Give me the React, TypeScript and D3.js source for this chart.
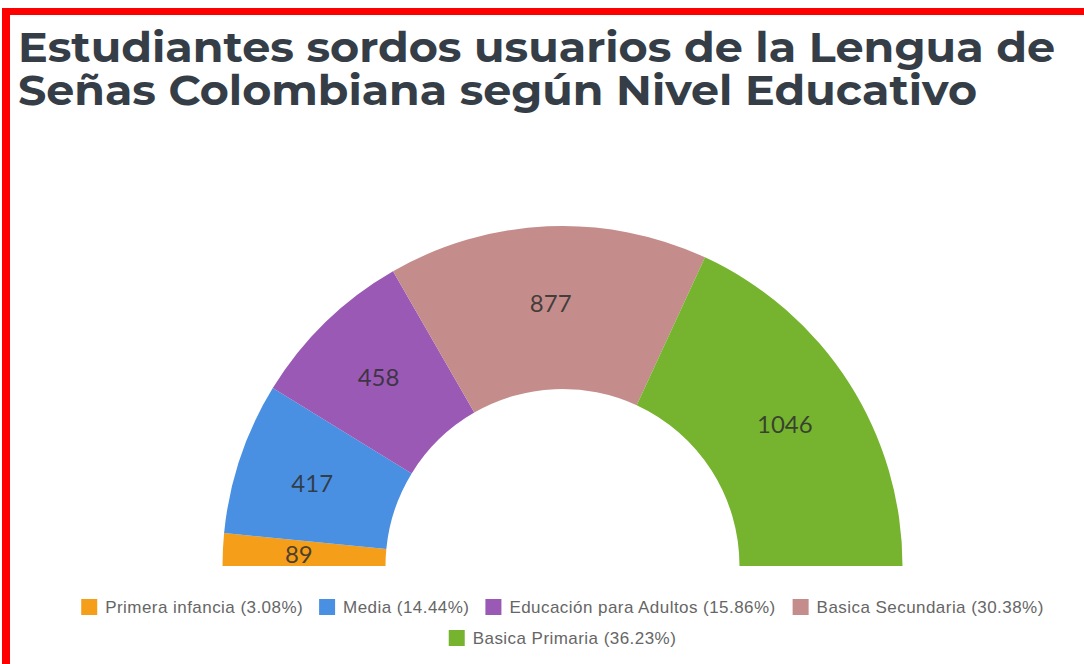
import React from "react";
import * as d3 from "d3";

const categories = ["Primera infancia", "Media", "Educación para Adultos", "Basica Secundaria", "Basica Primaria"];
const values = [89, 417, 458, 877, 1046];
const percentLabels = ["3.08%", "14.44%", "15.86%", "30.38%", "36.23%"];
const colors = ["#f59e1a", "#4a90e2", "#9b59b6", "#c48c8a", "#76b42f"];
const titleLines = ["Estudiantes sordos usuarios de la Lengua de", "Señas Colombiana según Nivel Educativo"];

const W = 1084;
const H = 664;

const LEGEND_SIZE = 17;
const LEGEND_SPACING = 0.45;

function measure(text: string, font: string, spacing: number): number {
  if (typeof document === "undefined") return text.length * 8;
  const c = document.createElement("canvas");
  const ctx = c.getContext("2d");
  if (!ctx) return text.length * 8;
  ctx.font = font;
  return ctx.measureText(text).width + spacing * text.length;
}

export default function App() {
  const cx = 562.5;
  const cy = 566;
  const rOuter = 340;
  const rInner = 177;
  const rLabel = 264;

  const pie = d3
    .pie<number>()
    .sort(null)
    .value((d) => d)
    .startAngle(-Math.PI / 2)
    .endAngle(Math.PI / 2);
  const arcs = pie(values);
  const arcGen = d3.arc<d3.PieArcDatum<number>>().innerRadius(rInner).outerRadius(rOuter);
  const labelArc = d3.arc<d3.PieArcDatum<number>>().innerRadius(rLabel).outerRadius(rLabel);

  const legendFont = `${LEGEND_SIZE}px 'Liberation Sans', Arial, sans-serif`;
  const sq = 16;
  const gapSqText = 8;
  const gapItems = 16;
  const items = categories.map((c, i) => {
    const text = `${c} (${percentLabels[i]})`;
    const tw = measure(text, legendFont, LEGEND_SPACING);
    return { text, tw, w: sq + gapSqText + tw, color: colors[i] };
  });
  const rows = [items.slice(0, 4), items.slice(4)];
  const legendCenter = 562.5;
  const rowY = [607, 638];

  return (
    <svg width={W} height={H} style={{ position: "absolute", left: 0, top: 0, background: "#fff" }}>
      <rect x={0} y={0} width={W} height={H} fill="#fff" />
      <rect x={2} y={8} width={W - 2} height={7} fill="#ff0000" />
      <rect x={2} y={8} width={8} height={H - 8} fill="#ff0000" />

      {titleLines.map((t, i) => (
        <text
          key={i}
          x={18}
          y={62 + i * 43}
          fontFamily="Montserrat, Inter, 'Open Sans', sans-serif"
          fontWeight={700}
          fontSize={41}
          fill="#353d47"
          textLength={i === 0 ? 1037 : 959}
          lengthAdjust="spacingAndGlyphs"
        >
          {t}
        </text>
      ))}

      <g transform={`translate(${cx},${cy})`}>
        {arcs.map((a, i) => (
          <path key={i} d={arcGen(a) || ""} fill={colors[i]} />
        ))}
        {arcs.map((a, i) => {
          const [x, y] = labelArc.centroid(a);
          return (
            <text
              key={"l" + i}
              x={x}
              y={y}
              textAnchor="middle"
              dominantBaseline="central"
              fontFamily="Lato, 'Open Sans', sans-serif"
              fontSize={24}
              fill="#2e2e2e"
              fillOpacity={0.85}
            >
              {values[i]}
            </text>
          );
        })}
      </g>

      {rows.map((row, ri) => {
        const total = row.reduce((s, it) => s + it.w, 0) + gapItems * (row.length - 1);
        let x = legendCenter - total / 2;
        return (
          <g key={ri}>
            {row.map((it, k) => {
              const x0 = x;
              x += it.w + gapItems;
              return (
                <g key={k}>
                  <rect x={x0} y={rowY[ri] - sq / 2} width={sq} height={sq} fill={it.color} />
                  <text
                    x={x0 + sq + gapSqText}
                    y={rowY[ri]}
                    dominantBaseline="central"
                    fontFamily="'Liberation Sans', Arial, sans-serif"
                    fontSize={LEGEND_SIZE}
                    letterSpacing={LEGEND_SPACING}
                    fill="#666"
                  >
                    {it.text}
                  </text>
                </g>
              );
            })}
          </g>
        );
      })}
    </svg>
  );
}
